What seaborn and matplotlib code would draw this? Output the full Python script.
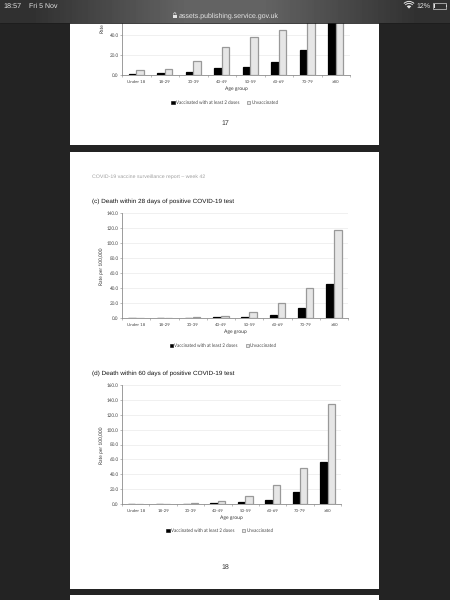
import numpy as np
import pandas as pd
import seaborn as sns
import matplotlib
matplotlib.use('Agg')
import matplotlib.pyplot as plt
from matplotlib.patches import Rectangle, Patch, Arc, Wedge

# Values
age_groups = ['Under 18', '18-29', '30-39', '40-49', '50-59', '60-69', '70-79', '≥80']
series_names = ['Vaccinated with at least 2 doses', 'Unvaccinated']

top_vacc = [1.0, 1.8, 3.5, 7.0, 8.3, 13.0, 25.5, 62.0]
top_unvacc = [4.8, 6.0, 13.8, 28.0, 38.0, 45.0, 84.0, 110.0]
c_vacc = [0.1, 0.2, 0.3, 0.7, 1.9, 4.4, 13.0, 46.0]
c_unvacc = [0.3, 0.5, 1.0, 2.5, 8.3, 19.8, 40.0, 117.0]
d_vacc = [0.1, 0.2, 0.5, 0.9, 2.2, 5.5, 15.5, 57.0]
d_unvacc = [0.3, 0.6, 0.7, 3.5, 11.0, 26.0, 49.0, 135.0]

W, H = 450, 600
BG = '#232323'
sns.set_style('white')
plt.rcParams['font.family'] = ['Lato', 'DejaVu Sans']
plt.rcParams['text.hinting'] = 'no_hinting'

fig = plt.figure(figsize=(W / 100, H / 100), dpi=100, facecolor=BG)


def px_axes(left, top, right, bottom, **kw):
    return fig.add_axes([left / W, 1 - bottom / H, (right - left) / W, (bottom - top) / H], **kw)


# pages behind the charts
bg = px_axes(0, 0, W, H, zorder=0)
bg.set_xlim(0, W)
bg.set_ylim(H, 0)
bg.axis('off')
bg.add_patch(Rectangle((70, 0), 309, 145, fc='white', ec='none'))
bg.add_patch(Rectangle((70, 152), 309, 437, fc='white', ec='none'))
bg.add_patch(Rectangle((70, 595), 309, 5, fc='white', ec='none'))
bg.text(225, 123, '17', ha='center', va='center', fontsize=5.0, color='#333333',
        family=['Liberation Sans'])
bg.text(225, 567, '18', ha='center', va='center', fontsize=5.0, color='#333333',
        family=['Liberation Sans'])
bg.text(92, 177, 'COVID-19 vaccine surveillance report – week 42', va='center', fontsize=3.75,
        color='#a0a0a0', family=['Liberation Sans'])
bg.text(92, 201, '(c) Death within 28 days of positive COVID-19 test', va='center', fontsize=4.6,
        color='#111111', family=['Liberation Sans'])
bg.text(92, 373, '(d) Death within 60 days of positive COVID-19 test', va='center', fontsize=4.6,
        color='#111111', family=['Liberation Sans'])


def draw_chart(box, vacc, unvacc, ymax, ticks, label_x, label_y, legend_x, legend_y, rate_label, rate_y):
    left, top, right, bottom = box
    ax = px_axes(left, top, right, bottom, zorder=2)
    ax.patch.set_alpha(0)
    df = pd.DataFrame({
        'age': age_groups * 2,
        'rate': vacc + unvacc,
        'series': [series_names[0]] * 8 + [series_names[1]] * 8,
    })
    sns.barplot(data=df, x='age', y='rate', hue='series', order=age_groups, hue_order=series_names,
                palette=['#000000', '#e6e6e6'], width=0.56, gap=0.06, saturation=1, legend=False, ax=ax)
    # black bars get a black edge, grey ones a darker grey edge
    for cont, edge in zip(ax.containers, ['#000000', '#999999']):
        for bar in cont:
            bar.set_edgecolor(edge)
            bar.set_linewidth(0.9)
    ax.set_xlim(-0.5, 7.5)
    ax.set_ylim(0, ymax)
    ax.set_yticks(ticks)
    ax.set_yticklabels(['%.1f' % t for t in ticks])
    ax.yaxis.grid(True, color='#eeeeee', lw=0.6)
    ax.set_axisbelow(True)
    ax.set_xticks(np.arange(-0.5, 8, 1), minor=True)
    ax.tick_params(axis='x', which='major', length=0, labelsize=3.2, labelcolor='#444444', pad=3.6)
    ax.tick_params(axis='x', which='minor', length=1.2, width=0.4, color='#888888', bottom=True)
    ax.tick_params(axis='y', length=1.2, width=0.4, color='#888888', labelsize=3.3,
                   labelcolor='#444444', pad=1.2, left=True)
    sns.despine(ax=ax)
    for side in ['left', 'bottom']:
        ax.spines[side].set_color('#8c8c8c')
        ax.spines[side].set_linewidth(0.6)
    ax.set_xlabel('')
    ax.set_ylabel('')
    bg.text(label_x, label_y, 'Age group', ha='center', va='center', fontsize=3.6, color='#333333')
    bg.text(102, rate_y, rate_label, rotation=90, ha='center', va='center',
            fontsize=3.5, color='#333333')
    handles = [Patch(fc='#000000', ec='#000000', lw=0.4), Patch(fc='#e6e6e6', ec='#8a8a8a', lw=0.5)]
    fig.legend(handles, series_names, loc='center', bbox_to_anchor=(legend_x / W, 1 - legend_y / H), ncol=2,
               frameon=False, fontsize=3.25, labelcolor='#444444', handlelength=0.75, handleheight=0.75,
               handletextpad=0.25, columnspacing=1.7, borderpad=0, borderaxespad=0)
    return ax


draw_chart((122, 23, 350, 75), top_vacc, top_unvacc, 52, [0, 20, 40], 236, 89, 225, 103, 'Rate', 28.5)
draw_chart((122, 213, 348, 318), c_vacc, c_unvacc, 140, list(range(0, 141, 20)), 235, 332, 223.5, 346,
           'Rate per 100,000', 266)
draw_chart((122, 385, 341, 504), d_vacc, d_unvacc, 160, list(range(0, 161, 20)), 231, 518, 220, 531,
           'Rate per 100,000', 445)

# browser bar on top of everything
top = px_axes(0, 0, W, H, zorder=10)
top.set_xlim(0, W)
top.set_ylim(H, 0)
top.axis('off')
xx = np.linspace(-1, 1, 225)
shade = 0.19 + 0.2 * np.clip(1.25 - np.abs(xx) * 1.45, 0, 1)
top.imshow(shade[None, :], cmap='gray', vmin=0, vmax=1, extent=(0, W, 23, 0), aspect='auto', zorder=1)
top.set_xlim(0, W)
top.set_ylim(H, 0)
top.plot([0, W], [23, 23], color='#1c1c1c', lw=0.6, zorder=2)
hdr = dict(color='#e4e4e4', va='center', family=['Liberation Sans'], zorder=3)
top.text(3, 6, '18:57', fontsize=5.2, **hdr)
top.text(29, 6, 'Fri 5 Nov', fontsize=5.0, **hdr)
top.text(178.5, 16, 'assets.publishing.service.gov.uk', fontsize=5.05, **hdr)
top.text(416, 6, '12%', fontsize=5.0, **hdr)
top.add_patch(Rectangle((173, 14.5), 3.6, 3.4, fc='#e4e4e4', ec='none', zorder=3))
top.add_patch(Arc((174.8, 14.5), 2.4, 3.6, theta1=180, theta2=360, ec='#e4e4e4', lw=0.5, zorder=3))
# wifi icon
top.add_patch(Wedge((409, 8.6), 3.2, 225, 315, fc='#e4e4e4', ec='none', zorder=3))
for r in [5.2, 7.2]:
    top.add_patch(Arc((409, 8.6), r * 2, r * 2, theta1=225, theta2=315, ec='#e4e4e4', lw=0.7, zorder=3))
# battery icon
top.add_patch(Rectangle((432.5, 3), 13, 6, fc='none', ec='#d0d0d0', lw=0.5, zorder=3))
top.add_patch(Rectangle((433.5, 4), 1.4, 4, fc='#e4e4e4', ec='none', zorder=3))
top.add_patch(Rectangle((446, 5), 0.8, 2, fc='#d0d0d0', ec='none', zorder=3))

fig.savefig('out.png', dpi=100, facecolor=fig.get_facecolor())
